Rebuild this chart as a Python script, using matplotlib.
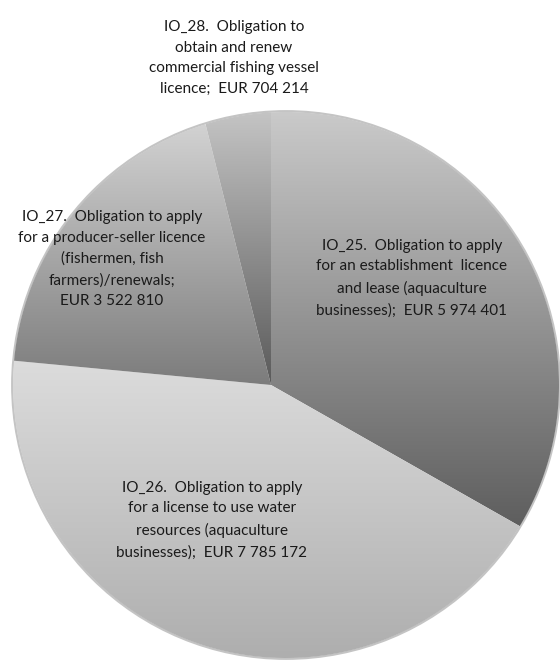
import matplotlib
matplotlib.use('Agg')
import matplotlib.pyplot as plt
import numpy as np
from matplotlib.colors import LinearSegmentedColormap
from matplotlib.patches import Polygon, Circle

codes = ['IO_25', 'IO_26', 'IO_27', 'IO_28']
values = [5974401, 7785172, 3522810, 704214]
labels = [
    'IO_25.  Obligation to apply\nfor an establishment  licence\nand lease (aquaculture\nbusinesses);  EUR 5 974 401',
    'IO_26.  Obligation to apply\nfor a license to use water\nresources (aquaculture\nbusinesses);  EUR 7 785 172',
    'IO_27.  Obligation to apply\nfor a producer-seller licence\n(fishermen, fish\nfarmers)/renewals;\nEUR 3 522 810',
    'IO_28.  Obligation to\nobtain and renew\ncommercial fishing vessel\nlicence;  EUR 704 214',
]
# top / bottom shade of each slice gradient
shades = [('#cacaca', '#5e5e5e'), ('#dcdcdc', '#aeaeae'),
          ('#d2d2d2', '#7c7c7c'), ('#c4c4c4', '#5a5a5a')]

W, H = 560, 660
# outer circle and the point where the slices meet (pixel coords)
C = np.array([286.0, 385.0])
R = 273.0
A = np.array([271.0, 385.0])

def ray_hit(theta):
    d = np.array([np.cos(theta), -np.sin(theta)])
    f = A - C
    b = np.dot(f, d)
    c = np.dot(f, f) - R * R
    t = -b + np.sqrt(b * b - c)
    return A + t * d

def slice_poly(t1, t2):
    # clockwise from t1 to t2, angles in radians
    p1, p2 = ray_hit(t1), ray_hit(t2)
    a1 = np.arctan2(-(p1[1] - C[1]), p1[0] - C[0])
    a2 = np.arctan2(-(p2[1] - C[1]), p2[0] - C[0])
    while a2 > a1:
        a2 -= 2 * np.pi
    arc = np.linspace(a1, a2, 200)
    pts = np.column_stack([C[0] + R * np.cos(arc), C[1] - R * np.sin(arc)])
    return np.vstack([A, pts])

fig = plt.figure(figsize=(5.6, 6.6), dpi=100)
ax = fig.add_axes([0, 0, 1, 1])
ax.set_xlim(0, W)
ax.set_ylim(H, 0)
ax.axis('off')

# soft rim
ax.add_patch(Circle(C, R + 0.8, facecolor='none', edgecolor='#c4c4c4', lw=1.6, zorder=0))

frac = np.array(values, dtype=float) / sum(values)
edges = np.deg2rad(90 - 360 * np.concatenate([[0], np.cumsum(frac)]))
for i, (c1, c2) in enumerate(shades):
    verts = slice_poly(edges[i], edges[i + 1])
    poly = Polygon(verts, closed=True, facecolor='none', edgecolor='none')
    ax.add_patch(poly)
    x0, x1 = verts[:, 0].min(), verts[:, 0].max()
    y0, y1 = verts[:, 1].min(), verts[:, 1].max()
    cmap = LinearSegmentedColormap.from_list('g', [c1, c2])
    grad = np.linspace(0, 1, 256).reshape(-1, 1)
    im = ax.imshow(grad, cmap=cmap, extent=(x0, x1, y1, y0), origin='upper',
                   aspect='auto', interpolation='bilinear', zorder=1)
    im.set_clip_path(poly)

ax.set_xlim(0, W)
ax.set_ylim(H, 0)

label_pos = [(412, 278), (212, 520), (112, 259), (234, 58)]
for lab, (lx, ly) in zip(labels, label_pos):
    ax.text(lx, ly, lab, ha='center', va='center', fontsize=11,
            color='#1a1a1a', linespacing=1.62, zorder=3,
            family=['Lato', 'DejaVu Sans'])

fig.savefig('out.png', dpi=100, facecolor='white')
